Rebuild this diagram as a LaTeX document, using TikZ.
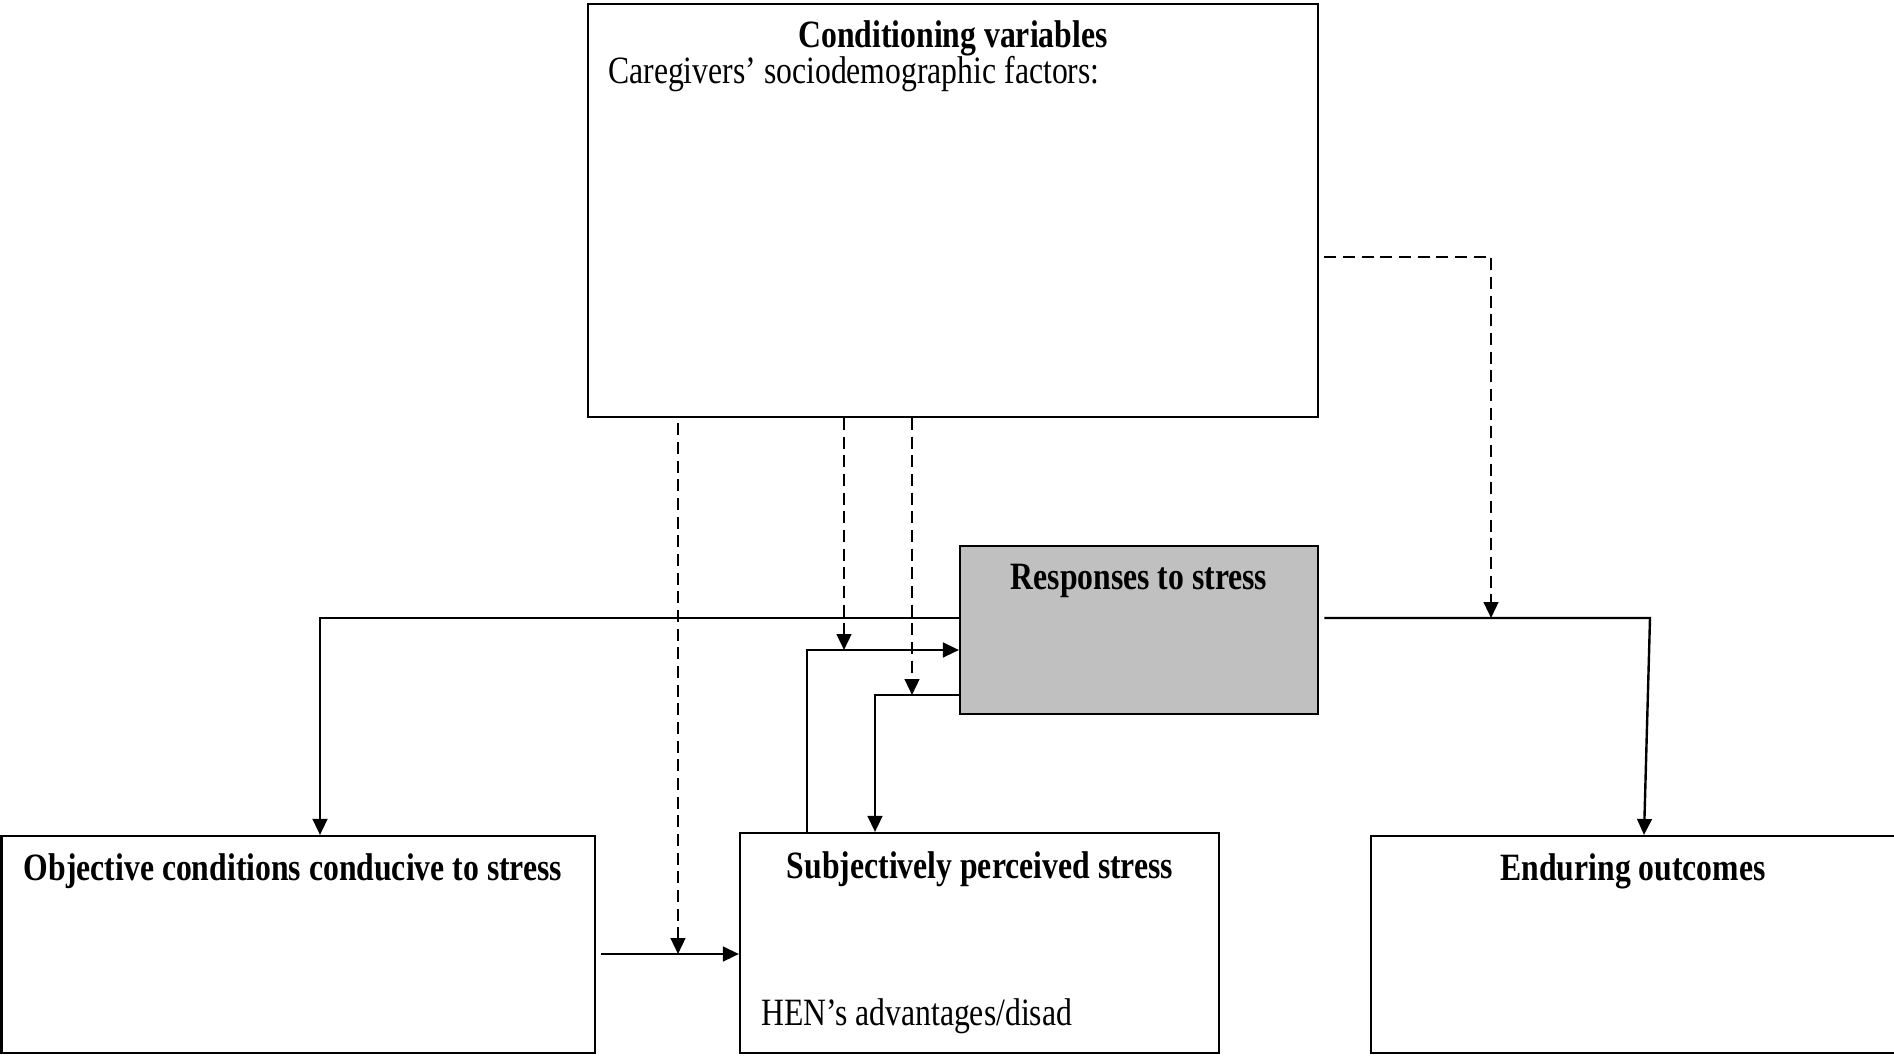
\documentclass[tikz,border=0pt]{standalone}
\usepackage{fontspec}
\setmainfont[FakeStretch=0.82]{Liberation Serif}
\usetikzlibrary{fit,arrows.meta}

\tikzset{
  box/.style={draw, line width=1.6pt, inner sep=0pt},
  title/.style={font=\fontsize{29}{34}\selectfont\bfseries, inner sep=0pt},
  plain/.style={font=\fontsize{29}{34}\selectfont, inner sep=0pt, anchor=west},
  arr/.style={line width=1.8pt, -{Triangle[length=12pt,width=11pt]}},
  dashline/.style={arr, dash pattern=on 9pt off 5pt},
}

\begin{document}
\begin{tikzpicture}[x=0.75pt,y=0.75pt,yscale=-1,xscale=1]
\useasboundingbox (0,0) rectangle (1894,1056);

%Shape: Rectangle [conditioning variables]
\node[box, fit={(588,4) (1318,417)}] (cond) {};
%Shape: Rectangle [responses]
\node[box, fill={rgb,255:red,192;green,192;blue,192}, fit={(960,546) (1318,714)}] (resp) {};
%Shape: Rectangle [objective conditions]
\node[box, fit={(1.5,836) (595,1053)}] (obj) {};
%Shape: Rectangle [perceived stress]
\node[box, fit={(740,833) (1219,1053)}] (subj) {};
%Shape: Rectangle [outcomes]
\node[box, fit={(1371,836) (1896,1053)}] (endur) {};

% bends and meeting points
\coordinate (objsubj) at (678,954);
\coordinate (hita) at (844,650);
\coordinate (hitb) at (912,695);
\coordinate (loopa) at (807,650);
\coordinate (loopb) at (875,695);
\coordinate (loopc) at (320,618);
\coordinate (loopd) at (1650,618);
\coordinate (endin) at (1644,836);
\coordinate (loope) at (1491,257);

%Straight Lines [solid]
\draw[arr] ([xshift=4pt]obj.east |- objsubj) -- (subj.west |- objsubj);
\draw[arr] (subj.north -| loopa) -- (loopa) -- (resp.west |- loopa);
\draw[arr] (resp.west |- loopb) -- (loopb) -- (subj.north -| loopb);
\draw[arr] (resp.west |- loopc) -- (loopc) -- (obj.north -| loopc);
\draw[arr] ([xshift=4pt]resp.east |- loopd) -- (loopd) -- (endur.north -| endin);

%Straight Lines [dashed]
\draw[dashline, shorten <=4pt] (cond.south -| objsubj) -- (objsubj);
\draw[dashline] (cond.south -| hita) -- (hita);
\draw[dashline] (cond.south -| hitb) -- (hitb);
\draw[dashline, dash pattern=on 5pt off 4pt] ([xshift=4pt]cond.east |- loope) -- (loope)
  [dash pattern=on 9pt off 5pt] -- (loope |- loopd);

% Text Node
\node[title] (condtitle) at (953,38) {Conditioning variables};
% Text Node
\node[plain] (condtext) at (608,74) {Caregivers’ sociodemographic factors:};
% Text Node
\node[title] (resptitle) at (1139,581) {Responses to stress};
% Text Node
\node[title] (objtitle) at (293,871) {Objective conditions conducive to stress};
% Text Node
\node[title] (subjtitle) at (980,869) {Subjectively perceived stress};
% Text Node
\node[plain] (subjtext) at (761,1016) {HEN’s advantages/disad};
% Text Node
\node[title] (endurtitle) at (1633,871) {Enduring outcomes};

\end{tikzpicture}
\end{document}
